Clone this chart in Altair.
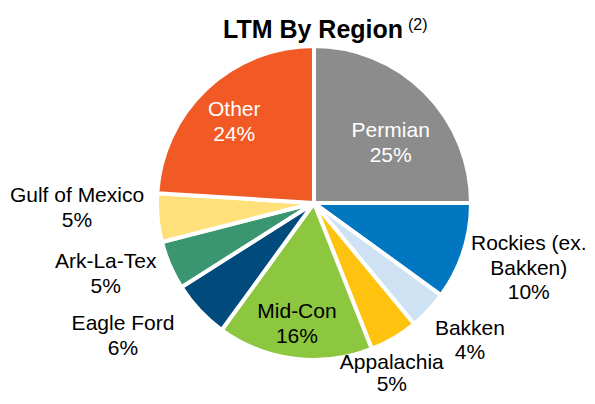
import altair as alt
import pandas as pd

# ---- data ----
regions = ["Permian", "Rockies (ex. Bakken)", "Bakken", "Appalachia", "Mid-Con",
           "Eagle Ford", "Ark-La-Tex", "Gulf of Mexico", "Other"]
shares = [25, 10, 4, 5, 16, 6, 5, 5, 24]
label_names = ["Permian", "Rockies (ex.\nBakken)", "Bakken", "Appalachia", "Mid-Con",
               "Eagle Ford", "Ark-La-Tex", "Gulf of Mexico", "Other"]
colors = ["#8C8C8C", "#0077C0", "#CFE2F3", "#FFC20E", "#8DC63F",
          "#004A7C", "#3A9671", "#FFE07A", "#F15A24"]

df = pd.DataFrame({
    "region": regions,
    "share": shares,
    "order": list(range(len(regions))),
    "label": [f"{n}\n{s}%" for n, s in zip(label_names, shares)],
})

# ---- layout (styles / placement, not data) ----
CX, CY, R = 306, 195, 157
FONT = "Liberation Sans"
# region -> (label radius, dx, dy, text colour, line height)
label_layout = {
    "Permian": (100, 6, -1, "white", 24.5),
    "Rockies (ex. Bakken)": (230, -4, -30, "black", 24.5),
    "Bakken": (207, 5, -16, "black", 24.5),
    "Appalachia": (200, -24, -12, "black", 22),
    "Mid-Con": (120, -2, -10, "black", 24.5),
    "Eagle Ford": (225, -27, -33, "black", 24.5),
    "Ark-La-Tex": (215, -11, -26, "black", 24.5),
    "Gulf of Mexico": (235, -3, -29, "black", 24.5),
    "Other": (115, -1, -9, "white", 24.5),
}

theta_scale = alt.Scale(domain=[0, 100], range=[0, 6.283185307179586])

base = (
    alt.Chart(df)
    .transform_window(cum="sum(share)", sort=[alt.SortField("order")], frame=[None, 0])
    .transform_calculate(start="datum.cum - datum.share",
                         mid="datum.cum - datum.share / 2")
)

arcs = base.mark_arc(radius=R, stroke="white", strokeWidth=4).encode(
    theta=alt.Theta("start:Q", scale=theta_scale),
    theta2="cum:Q",
    color=alt.Color("region:N", scale=alt.Scale(domain=regions, range=colors), legend=None),
    x=alt.value(CX),
    y=alt.value(CY),
)

layers = [arcs]
for reg in regions:
    r, dx, dy, col, lh = label_layout[reg]
    layers.append(
        base.transform_filter(alt.datum.region == reg)
        .mark_text(radius=r, dx=dx, dy=dy, font=FONT, fontSize=21, lineBreak="\n",
                   lineHeight=lh, align="center", baseline="middle", color=col)
        .encode(theta=alt.Theta("mid:Q", scale=theta_scale), text="label:N",
                x=alt.value(CX), y=alt.value(CY))
    )

title_df = pd.DataFrame({"t": ["LTM By Region"], "s": ["(2)"]})
title = alt.Chart(title_df).mark_text(font=FONT, fontSize=25, fontWeight="bold",
                                      align="center", baseline="alphabetic", color="black").encode(
    text="t:N", x=alt.value(305), y=alt.value(30))
sup = alt.Chart(title_df).mark_text(font=FONT, fontSize=16, align="left",
                                    baseline="alphabetic", color="black").encode(
    text="s:N", x=alt.value(400), y=alt.value(22))

chart = alt.layer(*layers, title, sup).properties(
    width=579, height=388, padding=0, autosize=alt.AutoSizeParams(type="none")
).configure_view(stroke=None)

chart.save("out.html", embed_options={"renderer": "svg", "actions": False})
